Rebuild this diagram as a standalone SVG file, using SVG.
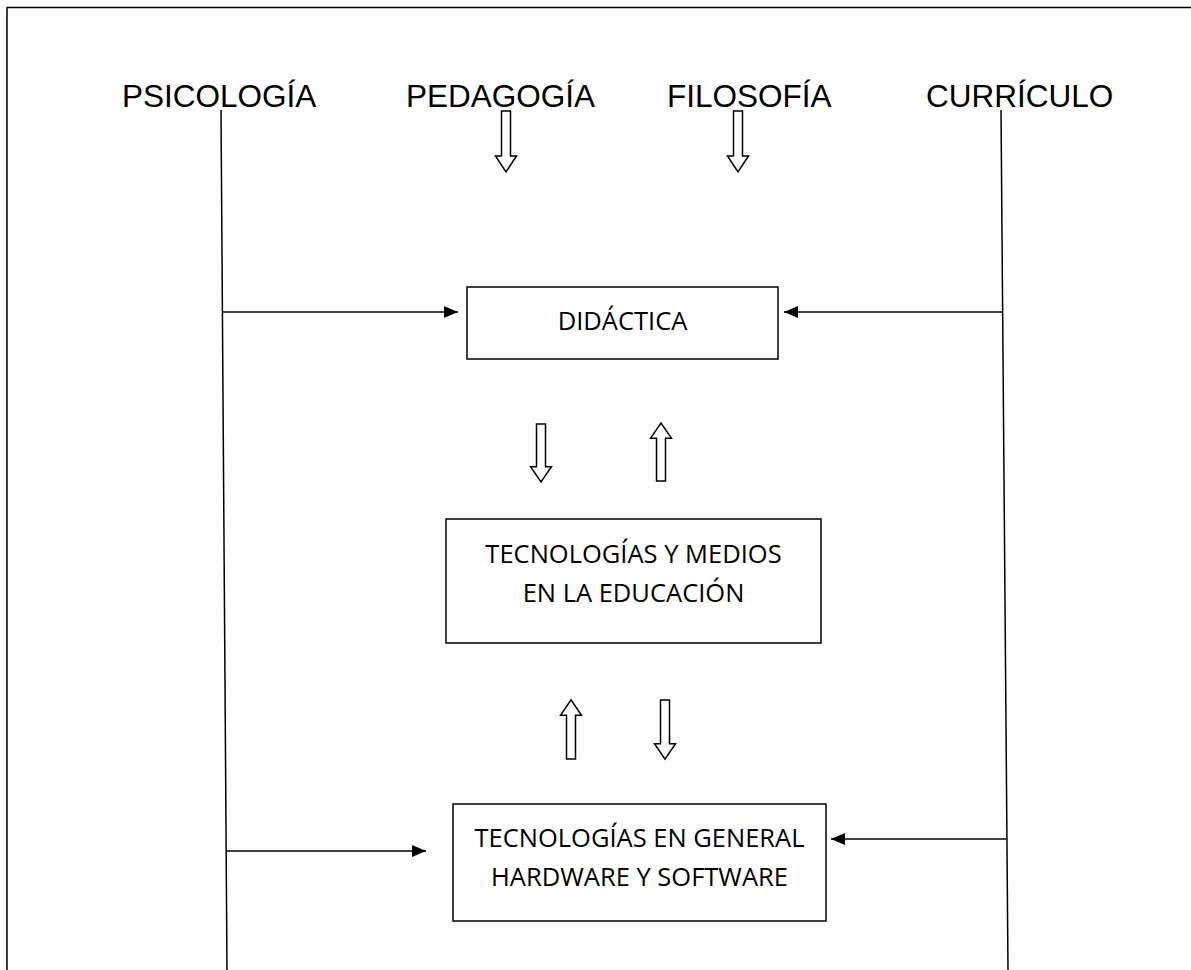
<svg xmlns="http://www.w3.org/2000/svg" width="1191" height="970" viewBox="0 0 1191 970">
<style>
.t{font-family:"Liberation Sans",Arial,sans-serif;font-size:31.5px;fill:#000}
.b{font-family:"Open Sans","Noto Sans",sans-serif;font-size:25.5px;fill:#000}
.box{fill:#fff;stroke:#000;stroke-width:1.5}
.ln{stroke:#000;stroke-width:1.5;fill:none}
.ha{fill:#fff;stroke:#000;stroke-width:1.5;stroke-linejoin:miter}
</style>
<defs>
<marker id="ah" markerWidth="14" markerHeight="12" refX="14" refY="6" orient="auto" markerUnits="userSpaceOnUse" viewBox="0 0 14 12">
<path d="M0,0 L14,6 L0,12 z" fill="#000"/>
</marker>
<path id="hd" d="M-4.5,0 L4.5,0 L4.5,45 L10.5,45 L0,61 L-10.5,45 L-4.5,45 z"/>
</defs>
<rect width="1191" height="970" fill="#fff"/>
<rect x="7" y="7.5" width="1200" height="1000" fill="none" stroke="#000" stroke-width="1.5"/>
<g id="labels">
<text class="t" x="122" y="107">PSICOLOGÍA</text>
<text class="t" x="406" y="107">PEDAGOGÍA</text>
<text class="t" x="667" y="107">FILOSOFÍA</text>
<text class="t" x="926" y="107">CURRÍCULO</text>
</g>
<g id="connectors">
<line class="ln" x1="221" y1="110" x2="227" y2="970"/>
<line class="ln" x1="1001" y1="110" x2="1008" y2="970"/>
<line class="ln" x1="222" y1="312" x2="458" y2="312" marker-end="url(#ah)"/>
<line class="ln" x1="1003" y1="312" x2="784" y2="312" marker-end="url(#ah)"/>
<line class="ln" x1="227" y1="851" x2="426" y2="851" marker-end="url(#ah)"/>
<line class="ln" x1="1006" y1="839" x2="831" y2="839" marker-end="url(#ah)"/>
<use href="#hd" class="ha" transform="translate(506,111)"/>
<use href="#hd" class="ha" transform="translate(738,111)"/>
<use href="#hd" class="ha" transform="translate(541,424) scale(1,0.95)"/>
<use href="#hd" class="ha" transform="translate(661,481) scale(1,-0.95)"/>
<use href="#hd" class="ha" transform="translate(571,759) scale(1,-0.97)"/>
<use href="#hd" class="ha" transform="translate(665,700) scale(1,0.97)"/>
</g>
<g id="didactica">
<rect class="box" x="467" y="287" width="311" height="72"/>
<text class="b" x="622.5" y="330" text-anchor="middle">DIDÁCTICA</text>
</g>
<g id="tec-medios">
<rect class="box" x="446" y="519" width="375" height="124"/>
<text class="b" x="633.5" y="563" text-anchor="middle">TECNOLOGÍAS Y MEDIOS</text>
<text class="b" x="633.5" y="602" text-anchor="middle">EN LA EDUCACIÓN</text>
</g>
<g id="tec-general">
<rect class="box" x="453" y="804" width="373" height="117"/>
<text class="b" x="639.5" y="847" text-anchor="middle">TECNOLOGÍAS EN GENERAL</text>
<text class="b" x="639.5" y="886" text-anchor="middle">HARDWARE Y SOFTWARE</text>
</g>
</svg>
